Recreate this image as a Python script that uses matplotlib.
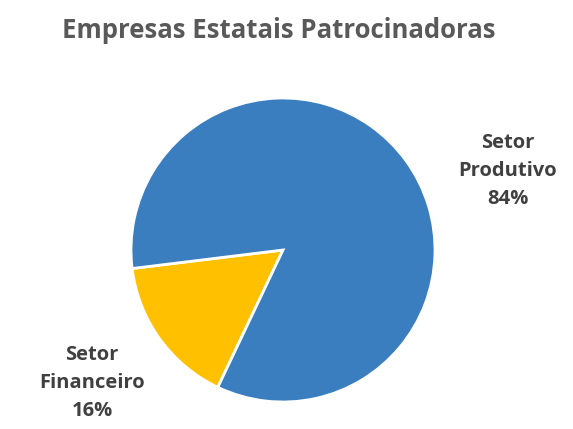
import matplotlib
matplotlib.use("Agg")
import matplotlib.pyplot as plt

categories = ["Setor Financeiro", "Setor Produtivo"]
values = [16, 84]
pct_labels = ["16%", "84%"]
colors = ["#FFC000", "#3A7EBF"]

W, H = 573, 429
fig = plt.figure(figsize=(W/100, H/100), dpi=100)
plt.rcParams['font.family'] = ['Open Sans', 'DejaVu Sans']

cx, cy, r = 283, 250, 152
ax = fig.add_axes([(cx - r)/W, (H - cy - r)/H, 2*r/W, 2*r/H])
ax.pie(values, colors=colors, startangle=187, counterclock=True,
       wedgeprops=dict(edgecolor="white", linewidth=2))
ax.set_xlim(-1, 1)
ax.set_ylim(-1, 1)
ax.set_aspect("equal")
ax.axis("off")

tc = "#595959"
fig.text(279/W, 1 - 30/H, "Empresas Estatais Patrocinadoras", ha="center", va="center",
         fontsize=18.5, fontweight="bold", color=tc)

lc = "#404040"
fig.text(508/W, 1 - 171/H, "Setor\n" + "Produtivo\n" + pct_labels[1], ha="center", va="center",
         fontsize=14.5, fontweight="bold", color=lc, linespacing=1.5)
fig.text(92/W, 1 - 383/H, "Setor\n" + "Financeiro\n" + pct_labels[0], ha="center", va="center",
         fontsize=14.5, fontweight="bold", color=lc, linespacing=1.5)

fig.savefig("out.png", dpi=100)
